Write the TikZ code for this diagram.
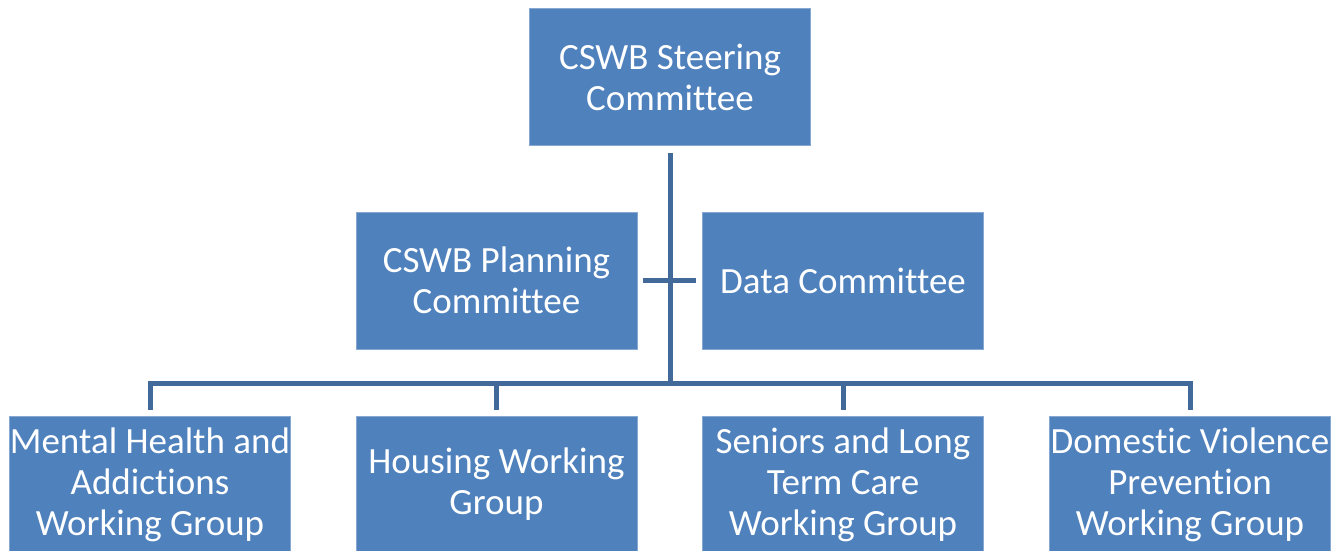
\documentclass[tikz,border=0pt]{standalone}
\usepackage{fontspec}
\setmainfont{Carlito}[Ligatures=NoCommon]
\usetikzlibrary{positioning}
\definecolor{cswbblue}{HTML}{4F81BD}
\definecolor{cswbline}{HTML}{41699A}
\definecolor{cswbedge}{HTML}{86A8D2}

\begin{document}
\begin{tikzpicture}[x=1pt,y=-1pt,
  box/.style={rectangle, fill=cswbblue, draw=cswbedge, line width=0.8pt,
    minimum width=281pt, minimum height=137pt, align=center, text=white,
    inner sep=0pt, font=\fontsize{37}{41}\selectfont},
  link/.style={draw=cswbline, line width=5pt}]
\useasboundingbox (0,0) rectangle (1343,550);
\clip (0,0) rectangle (1343,550);

% Committees
\node[box] (steer) at (670,77) {CSWB Steering\\Committee};
\node[box] (plan) at (496.5,280.5) {CSWB Planning\\Committee};
\node[box] (data) at (843,280.5) {Data Committee};

% Working groups
\node[box] (mental) at (150,484.5) {Mental Health and\\Addictions\\Working Group};
\node[box] (housing) at (496.5,484.5) {Housing Working\\Group};
\node[box] (seniors) at (843,484.5) {Seniors and Long\\Term Care\\Working Group};
\node[box] (domestic) at (1190,484.5) {Domestic Violence\\Prevention\\Working Group};

% Connectors
\coordinate (bus) at (670,383);
\draw[link, shorten <=7pt] (steer.south) -- (bus);
\draw[link, shorten <=6pt, shorten >=6pt] (plan.east) -- (data.west);
\draw[link, shorten <=6pt, shorten >=6pt] (mental.north) |- (bus) -| (domestic.north);
\draw[link, shorten >=6pt] (housing.north |- bus) -- (housing.north);
\draw[link, shorten >=6pt] (seniors.north |- bus) -- (seniors.north);
\end{tikzpicture}
\end{document}
